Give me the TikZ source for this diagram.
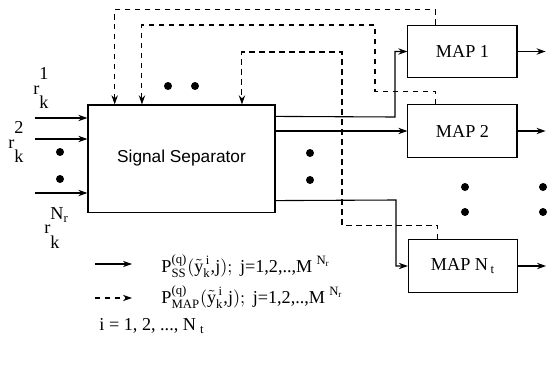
\documentclass[tikz,border=0pt]{standalone}
\usepackage{amsmath}
\usepackage{fontspec}
\setmainfont{Liberation Serif}
\newfontfamily\sepfont{Liberation Sans}
\usetikzlibrary{arrows.meta}
\newcommand{\rlab}[1]{r\rlap{\raisebox{8pt}{#1}}\raisebox{-8pt}{k}}
\tikzset{
  block/.style={draw, line width=0.6pt, minimum width=60pt, minimum height=29pt},
  sig/.style={line width=0.6pt, -{Stealth[length=5pt,width=3.5pt]}},
  fb/.style={sig, dashed, dash pattern=on 3pt off 2.5pt}
}
\begin{document}
\begin{tikzpicture}[x=0.55pt,y=-0.55pt]
\useasboundingbox (0,0) rectangle (548,371);
\node[draw, line width=0.6pt, minimum width=102.9pt, minimum height=58.9pt, font=\sepfont\fontsize{9.5}{11}\selectfont] (ss) at (181.5,158.5) {Signal Separator};
\node[block] (map1) at (462.5,51.5) {MAP 1};
\node[block] (map2) at (462.5,131) {MAP 2};
\node[block] (mapn) at (463,266) {MAP N$_{\,\text{t}}$};
\coordinate (in1) at (35,118);
\coordinate (in2) at (35,139);
\coordinate (in3) at (35,193);
\foreach \c in {in1,in2,in3}
  \draw[sig] (\c) -- (\c -| ss.west);
\node[inner sep=0pt] (r1) at (41,88) {\rlab{1}};
\node[inner sep=0pt] (r2) at (16,142) {\rlab{2}};
\node[inner sep=0pt] (rn) at (52,228) {\rlab{N$_\text{r}$}};
\draw[sig] (ss.north east) ++(0,12) -- (395,117) |- (map1.west);
\draw[sig] (ss.east |- map2.west) -- (map2.west);
\draw[sig] (ss.south east) ++(0,-12) -- (396,200) |- (mapn.west);
\draw[sig] (map1.east) -- ++(28,0);
\draw[sig] (map2.east) -- ++(28,0);
\draw[sig] (mapn.east) -- ++(28,0);
\draw[fb] ([xshift=-15pt]map1.north) -- ++(0,-15) -| ([xshift=15pt]ss.north west);
\draw[fb] ([xshift=-15pt]map2.north) -- ++(0,-13) -| (375,25) -| ([xshift=30pt]ss.north west);
\draw[fb] ([xshift=-14pt]mapn.north) -- ++(0,-14) -| (342,52) -| ([xshift=85pt]ss.north west);
\foreach \p in {(168,86),(195,86),(60,152),(60,179),(310,153),(310,180),(465,187),(465,212),(543,187),(543,212)}
  \fill \p circle (2.2pt);
\coordinate (l1a) at (95,264);
\coordinate (l1b) at (132,264);
\coordinate (l2a) at (95,298);
\coordinate (l2b) at (132,298);
\draw[sig] (l1a) -- (l1b);
\draw[fb] (l2a) -- (l2b);
\node[anchor=west] (lss) at (155,266) {$\text{P}^{\text{(q)}}_{\text{SS}}(\tilde{\text{y}}^{\,\text{i}}_{\text{k}}\text{,j}); \text{ j=1,2,..,M}^{\;\text{N}_\text{r}}$};
\node[anchor=west] (lmap) at (155,297) {$\text{P}^{\text{(q)}}_{\text{MAP}}(\tilde{\text{y}}^{\,\text{i}}_{\text{k}}\text{,j}); \text{ j=1,2,..,M}^{\;\text{N}_\text{r}}$};
\node[anchor=west] (lidx) at (93,326) {i = 1, 2, ..., N$_{\;\text{t}}$};
\end{tikzpicture}
\end{document}
